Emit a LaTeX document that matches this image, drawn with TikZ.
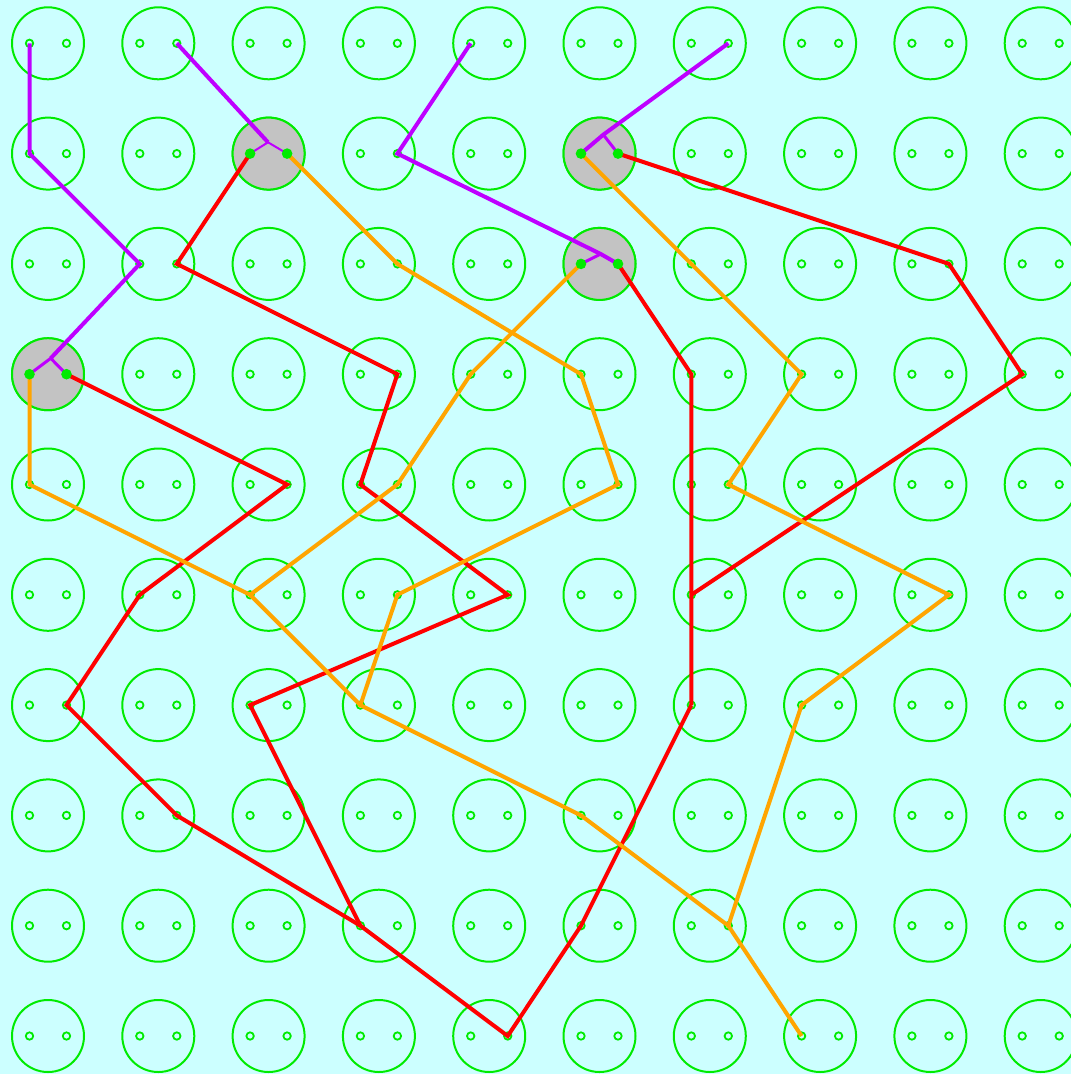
\documentclass[tikz,border=0pt]{standalone}
\definecolor{bg}{RGB}{204,255,255}
\definecolor{grn}{RGB}{0,235,0}
\definecolor{pur}{RGB}{190,0,255}
\definecolor{org}{RGB}{255,165,0}
\definecolor{rd}{RGB}{255,0,0}
\definecolor{gry}{RGB}{195,195,195}
\tikzset{
  cell/.style={circle,draw=grn,line width=2pt,minimum size=72pt,inner sep=0pt},
  graycell/.style={cell,fill=gry},
  hole/.style={draw=grn,line width=1.8pt},
  pin/.style={fill=grn},
  wire/.style={line width=4pt},
  pwire/.style={wire,draw=pur},
  owire/.style={wire,draw=org},
  rwire/.style={wire,draw=rd},
  pbranch/.style={draw=pur,line width=3pt},
  pthin/.style={draw=pur,line width=2pt}
}
\begin{document}
\begin{tikzpicture}[x=1pt,y=-1pt]
\useasboundingbox (0,0) rectangle (1071,1074);
\clip (0,0) rectangle (1071,1074);
\fill[bg] (0,0) rectangle (1071,1074);
\foreach \c in {0,...,9}{\foreach \r in {0,...,9}{
  \pgfmathsetmacro\px{48+110.3*\c}
  \pgfmathsetmacro\py{43.3+110.3*\r}
  \node[cell] (n\c-\r) at (\px,\py) {};
  \coordinate (l\c-\r) at (\px-18.5,\py);
  \coordinate (r\c-\r) at (\px+18.5,\py);
  \draw[hole] (l\c-\r) circle[radius=3.7];
  \draw[hole] (r\c-\r) circle[radius=3.7];
}}
% gray cells
\node[graycell] (g2-1) at (n2-1) {};
\node[graycell] (g5-1) at (n5-1) {};
\node[graycell] (g5-2) at (n5-2) {};
\node[graycell] (g0-3) at (n0-3) {};
% junctions
\coordinate (j2-1) at (268,142.3);
\coordinate (j5-1) at (603.3,134.7);
\coordinate (j5-2) at (600.7,254);
\coordinate (j0-3) at (50.7,358.3);
% red wires
\draw[rwire] (l2-1) -- (r1-2) -- (r3-3) -- (l3-4) -- (r4-5) -- (l2-6) -- (l3-8) -- (r4-9) -- (l5-8) -- (l6-6);
\draw[rwire] (r0-3) -- (r2-4) -- (l1-5) -- (r0-6) -- (r1-7) -- (l3-8);
\draw[rwire] (r5-2) -- (l6-3) -- (l6-5) -- (l6-6);
\draw[rwire] (r5-1) -- (r8-2) -- (l9-3) -- (l6-5);
% orange wires
\draw[owire] (r2-1) -- (r3-2) -- (l5-3) -- (r5-4) -- (r3-5) -- (l3-6) -- (l5-7) -- (r6-8) -- (l7-9);
\draw[owire] (l0-3) -- (l0-4) -- (l2-5) -- (l3-6);
\draw[owire] (l2-5) -- (r3-4) -- (l4-3) -- (l5-2);
\draw[owire] (l5-1) -- (l7-3) -- (r6-4) -- (r8-5) -- (l7-6) -- (r6-8);
% purple wires
\draw[pwire] (l0-0) -- (l0-1) -- (l1-2) -- (j0-3);
\draw[pbranch] (j0-3) -- (l0-3);
\draw[pbranch] (j0-3) -- (r0-3);
\draw[pwire] (r1-0) -- (j2-1);
\draw[pthin] (j2-1) -- (l2-1);
\draw[pthin] (j2-1) -- (r2-1);
\draw[pwire] (l4-0) -- (r3-1) -- (j5-2) -- (r5-2);
\draw[pbranch] (j5-2) -- (l5-2);
\draw[pwire] (r6-0) -- (j5-1) -- (l5-1);
\draw[pbranch] (j5-1) -- (r5-1);
% filled pins
\foreach \p in {l2-1,r2-1,l5-1,r5-1,l5-2,r5-2,l0-3,r0-3}{
  \fill[pin] (\p) circle[radius=5.3];
}
\end{tikzpicture}
\end{document}
